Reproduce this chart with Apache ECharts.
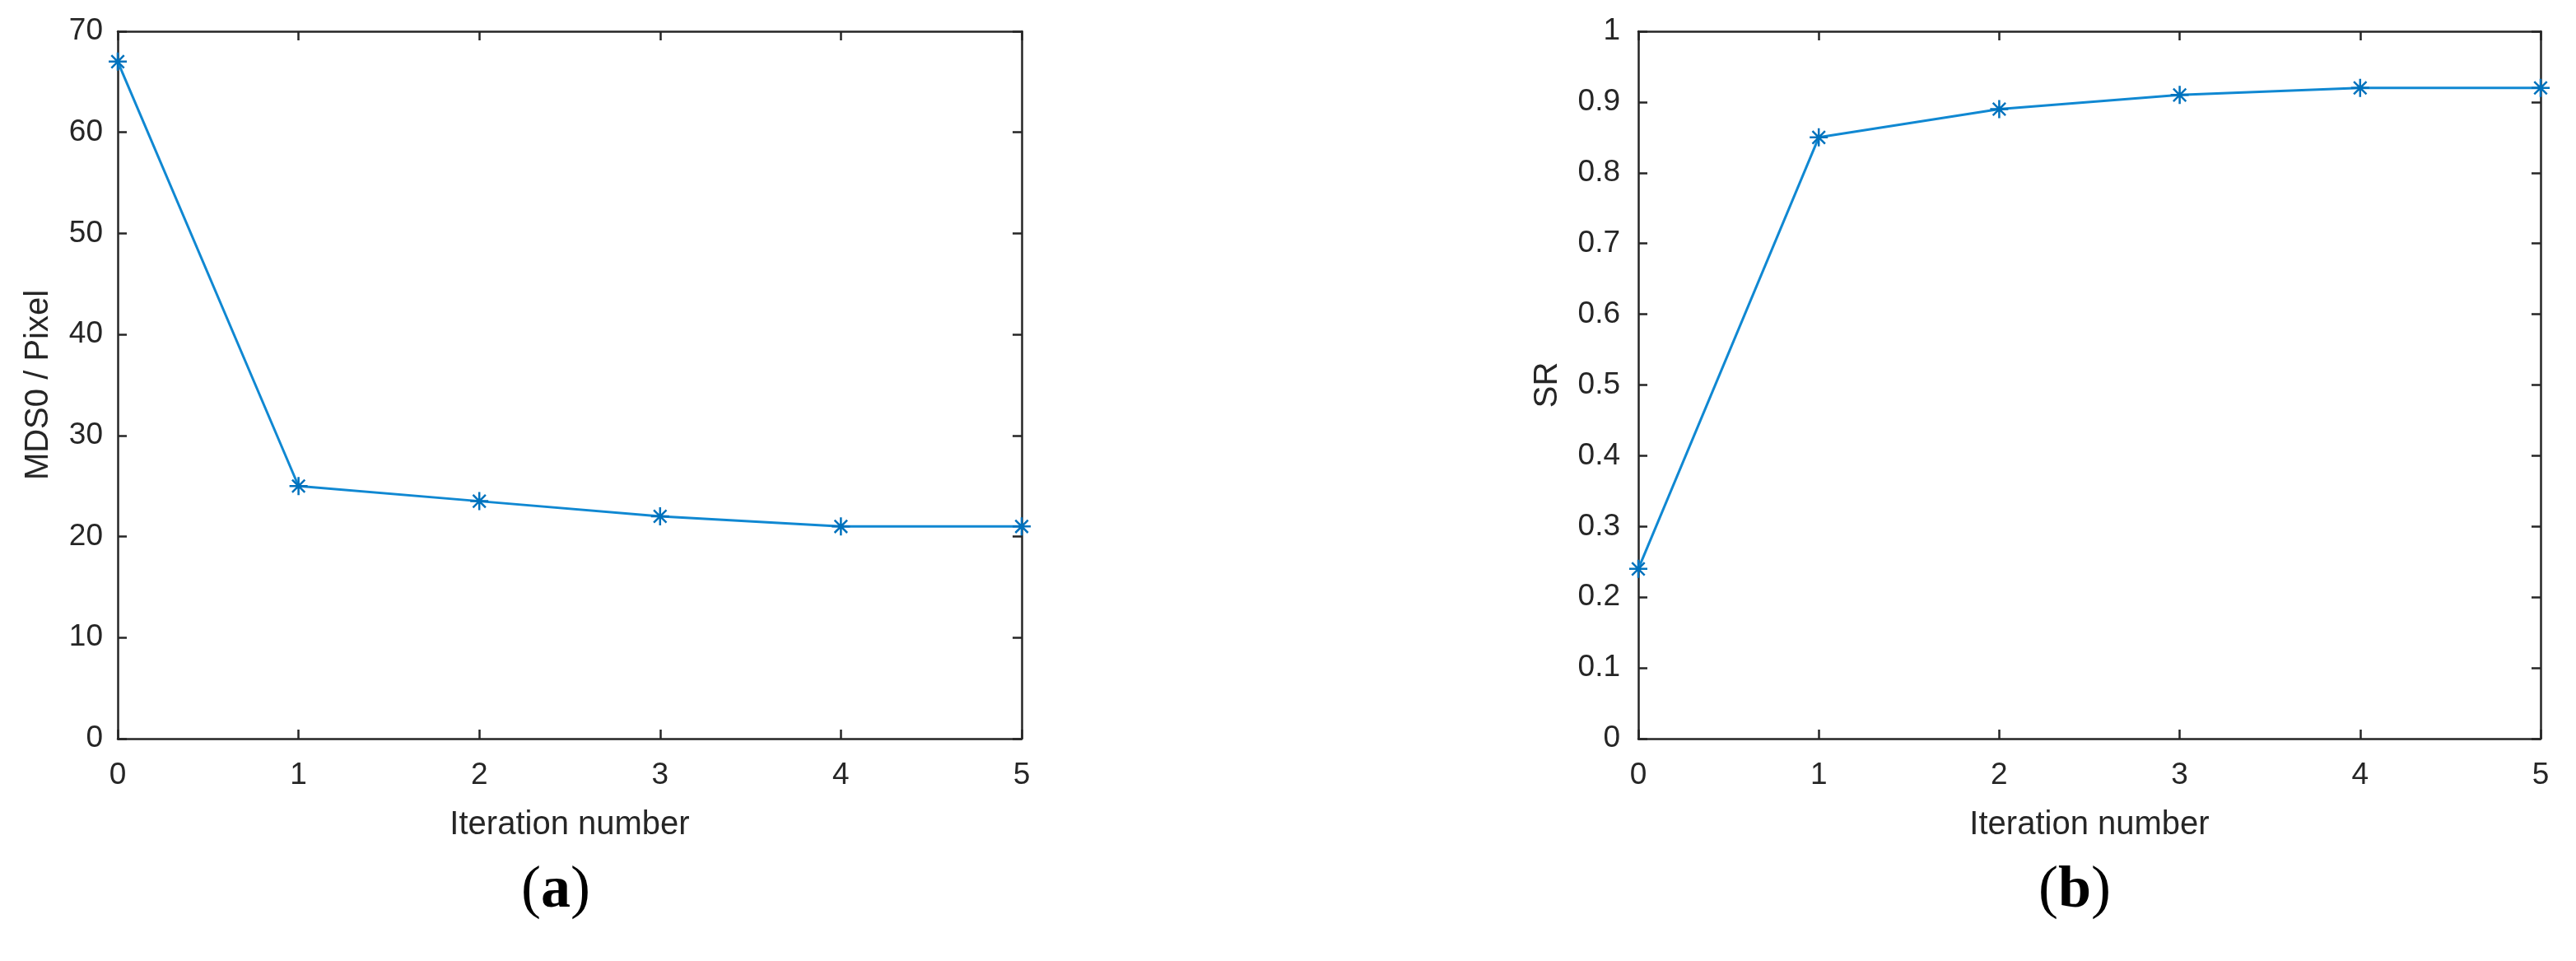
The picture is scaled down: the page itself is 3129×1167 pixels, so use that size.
<!DOCTYPE html>
<html>
<head>
<meta charset="utf-8">
<script src="https://cdn.jsdelivr.net/npm/echarts@6/dist/echarts.min.js"></script>
<style>
  html, body { margin: 0; padding: 0; background: #fff; }
  #chart { width: 3129px; height: 1167px; }
</style>
</head>
<body>
<div id="chart"></div>
<script>
// data
var iterations = [0, 1, 2, 3, 4, 5];
var mds0 = [67, 25, 23.5, 22, 21, 21];
var sr = [0.24, 0.85, 0.89, 0.91, 0.92, 0.92];
var xTicks = { min: 0, max: 5, interval: 1 };
var mdsTicks = { min: 0, max: 70, interval: 10 };
var srTicks = { min: 0, max: 1, interval: 0.1 };

var axisColor = '#262626';
var lineColor = '#1088d2';
var markColor = '#0072BD';
var font = 'Liberation Sans, Arial, Helvetica, sans-serif';
var asterisk = 'path://M0,-10L0,10M-10,0L10,0M-7,-7L7,7M-7,7L7,-7';

function pairs(xs, ys) {
  return xs.map(function (x, i) { return [x, ys[i]]; });
}

function xAxis(grid, top, name) {
  return {
    type: 'value', gridIndex: grid, position: top ? 'top' : 'bottom',
    min: xTicks.min, max: xTicks.max, interval: xTicks.interval,
    name: top ? '' : name, nameLocation: 'middle', nameGap: 85,
    nameTextStyle: { color: axisColor, fontSize: 40, fontFamily: font },
    axisLine: { show: true, onZero: false, lineStyle: { color: axisColor, width: 2.5 } },
    axisTick: { show: true, inside: true, length: 11, lineStyle: { color: axisColor, width: 2.5 } },
    axisLabel: { show: !top, margin: 26, color: axisColor, fontSize: 37, fontFamily: font },
    splitLine: { show: false }
  };
}

function yAxis(grid, right, t, name, gap, margin) {
  return {
    type: 'value', gridIndex: grid, position: right ? 'right' : 'left',
    min: t.min, max: t.max, interval: t.interval,
    name: right ? '' : name, nameLocation: 'middle', nameGap: gap,
    nameTextStyle: { color: axisColor, fontSize: 40, fontFamily: font },
    axisLine: { show: true, onZero: false, lineStyle: { color: axisColor, width: 2.5 } },
    axisTick: { show: true, inside: true, length: 11, lineStyle: { color: axisColor, width: 2.5 } },
    axisLabel: { show: !right, margin: margin, color: axisColor, fontSize: 37, fontFamily: font },
    splitLine: { show: false }
  };
}

function series(xi, yi, values) {
  return {
    type: 'line', xAxisIndex: xi, yAxisIndex: yi,
    data: pairs(iterations, values),
    clip: false,
    symbol: asterisk, symbolSize: 22,
    itemStyle: { color: markColor, borderColor: markColor, borderWidth: 2.5 },
    lineStyle: { color: lineColor, width: 3 },
    animation: false
  };
}

function panelLabel(letter, x) {
  return {
    type: 'text', x: x, y: 1046,
    style: {
      text: '{p|(}{b|' + letter + '}{p|)}', textAlign: 'center',
      rich: {
        p: { fontSize: 72, fontFamily: 'Liberation Serif', fill: '#000' },
        b: { fontSize: 72, fontFamily: 'Liberation Serif', fontWeight: 'bold', fill: '#000' }
      }
    }
  };
}

var chart = echarts.init(document.getElementById('chart'));
chart.setOption({
  backgroundColor: '#fff',
  animation: false,
  grid: [
    { left: 143, top: 38, width: 1098, height: 859 },
    { left: 1990, top: 38, width: 1096, height: 859 }
  ],
  xAxis: [
    xAxis(0, false, 'Iteration number'),
    xAxis(0, true),
    xAxis(1, false, 'Iteration number'),
    xAxis(1, true)
  ],
  yAxis: [
    yAxis(0, false, mdsTicks, 'MDS0 / Pixel', 76, 18),
    yAxis(0, true, mdsTicks),
    yAxis(1, false, srTicks, 'SR', 90, 22),
    yAxis(1, true, srTicks)
  ],
  series: [
    series(0, 0, mds0),
    series(2, 2, sr)
  ],
  graphic: [
    panelLabel('a', 675),
    panelLabel('b', 2520)
  ]
});
</script>
</body>
</html>
